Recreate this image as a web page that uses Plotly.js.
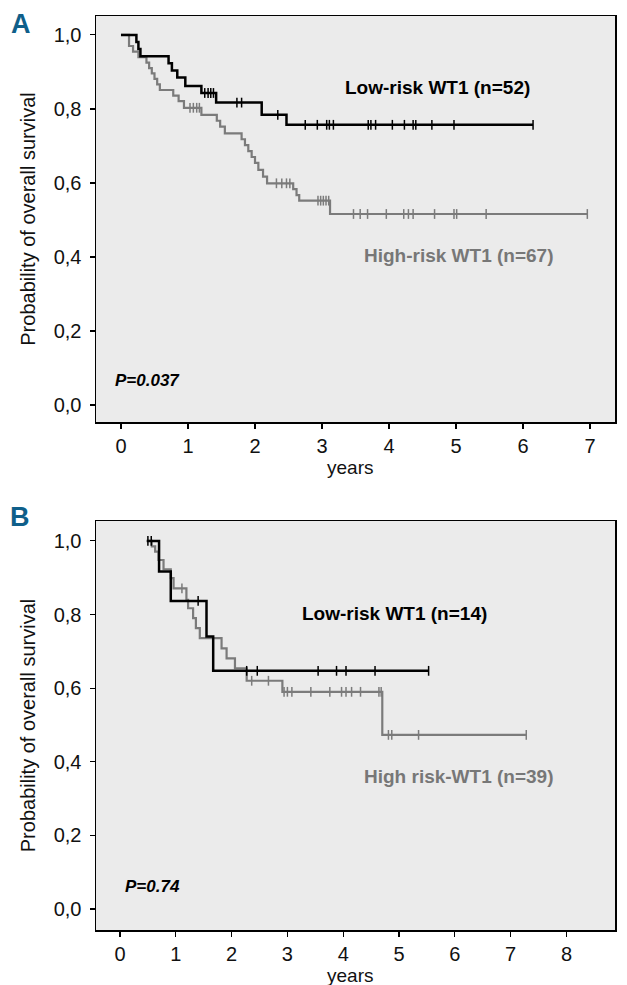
<!DOCTYPE html>
<html>
<head>
<meta charset="utf-8">
<script src="https://cdn.plot.ly/plotly-3.0.1.min.js"></script>
<style>html,body{margin:0;padding:0;background:#fff}#chart{width:627px;height:985px}</style>
</head>
<body>
<div id="chart"></div>
<script>
// Panel A: low-risk WT1 (n=52)
var aLowTime  = [0, 0.23, 0.26, 0.29, 0.71, 0.76, 0.84, 0.96, 1.20, 1.42, 2.10, 2.47, 6.15];
var aLowSurv  = [1.0, 0.981, 0.962, 0.942, 0.923, 0.904, 0.885, 0.862, 0.843, 0.817, 0.784, 0.757, 0.757];
var aLowCens  = [1.25, 1.30, 1.34, 1.38, 1.73, 1.80, 2.34, 2.75, 2.93, 3.07, 3.11, 3.17, 3.69, 3.73, 3.80, 4.05, 4.23, 4.36, 4.40, 4.64, 4.97, 6.15];
// Panel A: high-risk WT1 (n=67)
var aHighTime = [0, 0.12, 0.18, 0.26, 0.38, 0.42, 0.46, 0.50, 0.54, 0.58, 0.78, 0.86, 0.94, 1.20, 1.43, 1.48, 1.55, 1.80, 1.85, 1.90, 1.95, 2.00, 2.05, 2.12, 2.18, 2.57, 2.62, 2.66, 3.12, 6.96];
var aHighSurv = [1.0, 0.970, 0.955, 0.940, 0.925, 0.910, 0.896, 0.881, 0.866, 0.851, 0.836, 0.821, 0.803, 0.784, 0.768, 0.752, 0.734, 0.718, 0.702, 0.686, 0.670, 0.654, 0.635, 0.617, 0.599, 0.583, 0.567, 0.552, 0.516, 0.516];
var aHighCens = [1.03, 1.08, 1.13, 1.17, 2.32, 2.40, 2.47, 2.52, 2.94, 2.98, 3.02, 3.06, 3.10, 3.47, 3.57, 3.68, 3.96, 4.22, 4.29, 4.36, 4.68, 4.97, 5.01, 5.45, 6.96];
// Panel B: low-risk WT1 (n=14)
var bLowTime  = [0.48, 0.70, 0.91, 1.55, 1.67, 5.53];
var bLowSurv  = [1.0, 0.917, 0.837, 0.740, 0.647, 0.647];
var bLowCens  = [0.50, 0.56, 1.40, 2.27, 2.46, 3.55, 3.88, 4.05, 4.57, 5.53];
// Panel B: high-risk WT1 (n=39)
var bHighTime = [0.48, 0.57, 0.63, 0.69, 0.78, 0.91, 0.96, 1.19, 1.22, 1.31, 1.36, 1.43, 1.82, 1.91, 2.06, 2.27, 2.91, 4.70, 7.28];
var bHighSurv = [1.0, 0.985, 0.971, 0.948, 0.923, 0.899, 0.871, 0.840, 0.817, 0.790, 0.763, 0.736, 0.708, 0.681, 0.654, 0.620, 0.590, 0.473, 0.473];
var bHighCens = [1.11, 2.36, 2.66, 2.94, 3.00, 3.08, 3.42, 3.76, 3.97, 4.05, 4.15, 4.31, 4.64, 4.68, 4.81, 4.87, 5.35, 7.28];

var yTicks = [0, 0.2, 0.4, 0.6, 0.8, 1.0];
var aXTicks = [0, 1, 2, 3, 4, 5, 6, 7];
var bXTicks = [0, 1, 2, 3, 4, 5, 6, 7, 8];

var BLACK = '#000000', GRAY = '#7b7b7b';
var SANS = '"Liberation Sans", Arial, Helvetica, sans-serif';

function survAt(times, surv, t) {
  var v = surv[0];
  for (var i = 0; i < times.length; i++) { if (times[i] <= t) v = surv[i]; }
  return v;
}
function curve(times, surv, color, width, xa, ya) {
  return {x: times, y: surv, type: 'scatter', mode: 'lines', line: {shape: 'hv', color: color, width: width},
          xaxis: xa, yaxis: ya, hoverinfo: 'skip', showlegend: false};
}
function cens(ct, times, surv, color, xa, ya) {
  return {x: ct, y: ct.map(function (t) { return survAt(times, surv, t); }), type: 'scatter', mode: 'markers',
          marker: {symbol: 'line-ns', size: 7, color: color, line: {color: color, width: 1.5}},
          xaxis: xa, yaxis: ya, hoverinfo: 'skip', showlegend: false};
}

var data = [
  curve(aHighTime, aHighSurv, GRAY, 2.2, 'x', 'y'),
  cens(aHighCens, aHighTime, aHighSurv, GRAY, 'x', 'y'),
  curve(aLowTime, aLowSurv, BLACK, 2.5, 'x', 'y'),
  cens(aLowCens, aLowTime, aLowSurv, BLACK, 'x', 'y'),
  curve(bHighTime, bHighSurv, GRAY, 2.2, 'x2', 'y2'),
  cens(bHighCens, bHighTime, bHighSurv, GRAY, 'x2', 'y2'),
  curve(bLowTime, bLowSurv, BLACK, 2.5, 'x2', 'y2'),
  cens(bLowCens, bLowTime, bLowSurv, BLACK, 'x2', 'y2')
];

var H = 985, W = 627;
function py(px) { return 1 - px / H; }
var axisCommon = {showline: true, mirror: true, linecolor: '#000', linewidth: 1.5, ticks: 'outside', ticklen: 5,
  tickwidth: 1.2, tickcolor: '#000', showgrid: false, zeroline: false, automargin: false,
  tickfont: {family: SANS, size: 20, color: '#111'}};
function ax(extra) { var o = {}; for (var k in axisCommon) o[k] = axisCommon[k]; for (var k2 in extra) o[k2] = extra[k2]; return o; }

var layout = {
  width: W, height: H, margin: {l: 0, r: 0, t: 0, b: 0}, paper_bgcolor: '#ffffff', plot_bgcolor: '#ebebeb',
  separators: ',.', showlegend: false,
  xaxis: ax({domain: [96 / W, 615 / W], range: [-0.373, 7.373], tickvals: aXTicks, ticktext: aXTicks.map(String), anchor: 'y'}),
  yaxis: ax({domain: [py(422), py(16)], range: [-0.046, 1.051], tickvals: yTicks, tickformat: '.1f', anchor: 'x', ticklabelstandoff: 4,
    title: {text: 'Probability of overall survival', font: {family: SANS, size: 20, color: '#111'}, standoff: 12}}),
  xaxis2: ax({domain: [96 / W, 615 / W], range: [-0.43, 8.87], tickvals: bXTicks, ticktext: bXTicks.map(String), anchor: 'y2'}),
  yaxis2: ax({domain: [py(930), py(521)], range: [-0.057, 1.054], tickvals: yTicks, tickformat: '.1f', anchor: 'x2', ticklabelstandoff: 4,
    title: {text: 'Probability of overall survival', font: {family: SANS, size: 20, color: '#111'}, standoff: 12}}),
  annotations: [
    {text: 'years', xref: 'paper', yref: 'paper', x: 350 / W, y: py(467), xanchor: 'center', yanchor: 'middle', showarrow: false,
     font: {family: SANS, size: 19, color: '#111'}},
    {text: 'years', xref: 'paper', yref: 'paper', x: 350 / W, y: py(975), xanchor: 'center', yanchor: 'middle', showarrow: false,
     font: {family: SANS, size: 19, color: '#111'}},
    {text: 'A', xref: 'paper', yref: 'paper', x: 21 / W, y: py(24), xanchor: 'center', yanchor: 'middle', showarrow: false,
     font: {family: SANS, size: 27, color: '#0f5f8a', weight: 'bold'}},
    {text: 'B', xref: 'paper', yref: 'paper', x: 20 / W, y: py(517), xanchor: 'center', yanchor: 'middle', showarrow: false,
     font: {family: SANS, size: 27, color: '#0f5f8a', weight: 'bold'}},
    {text: 'Low-risk WT1 (n=52)', xref: 'x', yref: 'y', x: 3.31, y: 0.857, xanchor: 'left', yanchor: 'middle', showarrow: false,
     font: {family: SANS, size: 19, color: '#000', weight: 'bold'}},
    {text: 'High-risk WT1 (n=67)', xref: 'x', yref: 'y', x: 3.60, y: 0.403, xanchor: 'left', yanchor: 'middle', showarrow: false,
     font: {family: SANS, size: 19, color: '#777', weight: 'bold'}},
    {text: 'P=0.037', xref: 'x', yref: 'y', x: -0.12, y: 0.065, xanchor: 'left', yanchor: 'middle', showarrow: false,
     font: {family: SANS, size: 17, color: '#000', weight: 'bold', style: 'italic'}},
    {text: 'Low-risk WT1 (n=14)', xref: 'x2', yref: 'y2', x: 3.23, y: 0.804, xanchor: 'left', yanchor: 'middle', showarrow: false,
     font: {family: SANS, size: 19, color: '#000', weight: 'bold'}},
    {text: 'High risk-WT1 (n=39)', xref: 'x2', yref: 'y2', x: 4.33, y: 0.36, xanchor: 'left', yanchor: 'middle', showarrow: false,
     font: {family: SANS, size: 19, color: '#777', weight: 'bold'}},
    {text: 'P=0.74', xref: 'x2', yref: 'y2', x: 0.05, y: 0.0625, xanchor: 'left', yanchor: 'middle', showarrow: false,
     font: {family: SANS, size: 17, color: '#000', weight: 'bold', style: 'italic'}}
  ]
};

Plotly.newPlot('chart', data, layout, {staticPlot: true, displayModeBar: false});
</script>
</body>
</html>
